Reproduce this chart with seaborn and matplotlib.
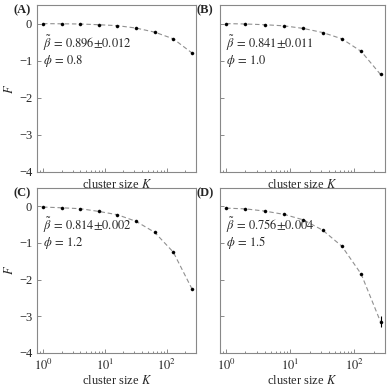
import numpy as np
import pandas as pd
import matplotlib
matplotlib.use("Agg")
import matplotlib.pyplot as plt
import matplotlib.transforms as mtransforms
import seaborn as sns

sns.set_style("ticks")
plt.rcParams["font.family"] = ["Liberation Serif", "DejaVu Serif"]
plt.rcParams["mathtext.fontset"] = "stix"

# ─── data ─────────────────────────────────────────────────────
K = [1, 2, 4, 8, 16, 32, 64, 128, 256]
F_A = [0.0, -0.005, -0.01, -0.03, -0.055, -0.12, -0.23, -0.41, -0.79]
F_B = [0.0, -0.01, -0.03, -0.06, -0.13, -0.24, -0.41, -0.75, -1.37]
F_C = [-0.02, -0.04, -0.065, -0.14, -0.23, -0.41, -0.71, -1.25, -2.25]
F_D = [-0.05, -0.07, -0.13, -0.22, -0.37, -0.65, -1.09, -1.85, -3.15]
ERR_D = [0, 0, 0, 0, 0, 0, 0, 0, 0.15]

panels = ["(A)", "(B)", "(C)", "(D)"]
series = [F_A, F_B, F_C, F_D]
errors = [None, None, None, ERR_D]
beta_txt = ["0.896", "0.841", "0.814", "0.756"]
beta_err = ["0.012", "0.011", "0.002", "0.004"]
phi_txt = ["0.8", "1.0", "1.2", "1.5"]

# axes boxes in figure fractions [left, bottom, width, height]
boxes = [
    [0.095, 0.559, 0.408, 0.428],
    [0.564, 0.559, 0.423, 0.428],
    [0.095, 0.095, 0.408, 0.423],
    [0.564, 0.095, 0.423, 0.423],
]

fig = plt.figure(figsize=(3.9, 3.9), dpi=100)

for i in range(4):
    ax = fig.add_axes(boxes[i])
    df = pd.DataFrame({"K": K, "F": series[i]})
    sns.lineplot(data=df, x="K", y="F", ax=ax, color="#909090",
                 linestyle=(0, (4, 2.5)), linewidth=0.8)
    sns.scatterplot(data=df, x="K", y="F", ax=ax, color="black",
                    s=5, edgecolor="black", linewidth=0.3, zorder=3)
    if errors[i] is not None:
        ax.errorbar(K, series[i], yerr=errors[i], fmt="none",
                    ecolor="black", elinewidth=0.8, capsize=0)
    ax.set_xscale("log")
    ax.set_xlim(0.8, 300)
    ax.set_ylim(-4, 0.5)
    ax.set_yticks([0, -1, -2, -3, -4])
    ax.set_xticks([1, 10, 100])
    ax.tick_params(which="both", direction="in", labelsize=9,
                   color="#777777", length=3, width=0.6)
    ax.tick_params(which="minor", length=1.8)
    for sp in ax.spines.values():
        sp.set_color("#888888")
        sp.set_linewidth(0.8)
    ax.set_xlabel("cluster size $K$", fontsize=9, labelpad=1)
    if i % 2 == 0:
        ax.set_ylabel("$F$", fontsize=9, labelpad=2)
        ax.set_yticklabels(["0", "\u22121", "\u22122", "\u22123", "\u22124"])
    else:
        ax.set_ylabel("")
        ax.set_yticklabels([])
    if i < 2:
        ax.set_xticklabels([])
    else:
        ax.set_xticklabels(["$10^0$", "$10^1$", "$10^2$"])
    ax.text(0.035, 0.745, r"$\tilde{\beta}\,{=}\,%s{\pm}%s$" % (beta_txt[i], beta_err[i]),
            transform=ax.transAxes, fontsize=9, va="baseline", ha="left")
    # second line a fixed distance under the first
    below = mtransforms.offset_copy(ax.transAxes, fig=fig, x=0, y=-11.8, units="points")
    ax.text(0.035, 0.745, r"$\phi\,{=}\,%s$" % phi_txt[i],
            transform=below, fontsize=9, va="baseline", ha="left")
    ax.text(-0.04, 0.97, panels[i], transform=ax.transAxes, fontsize=9,
            fontweight="bold", ha="right", va="center")

fig.savefig("out.png", dpi=100)
